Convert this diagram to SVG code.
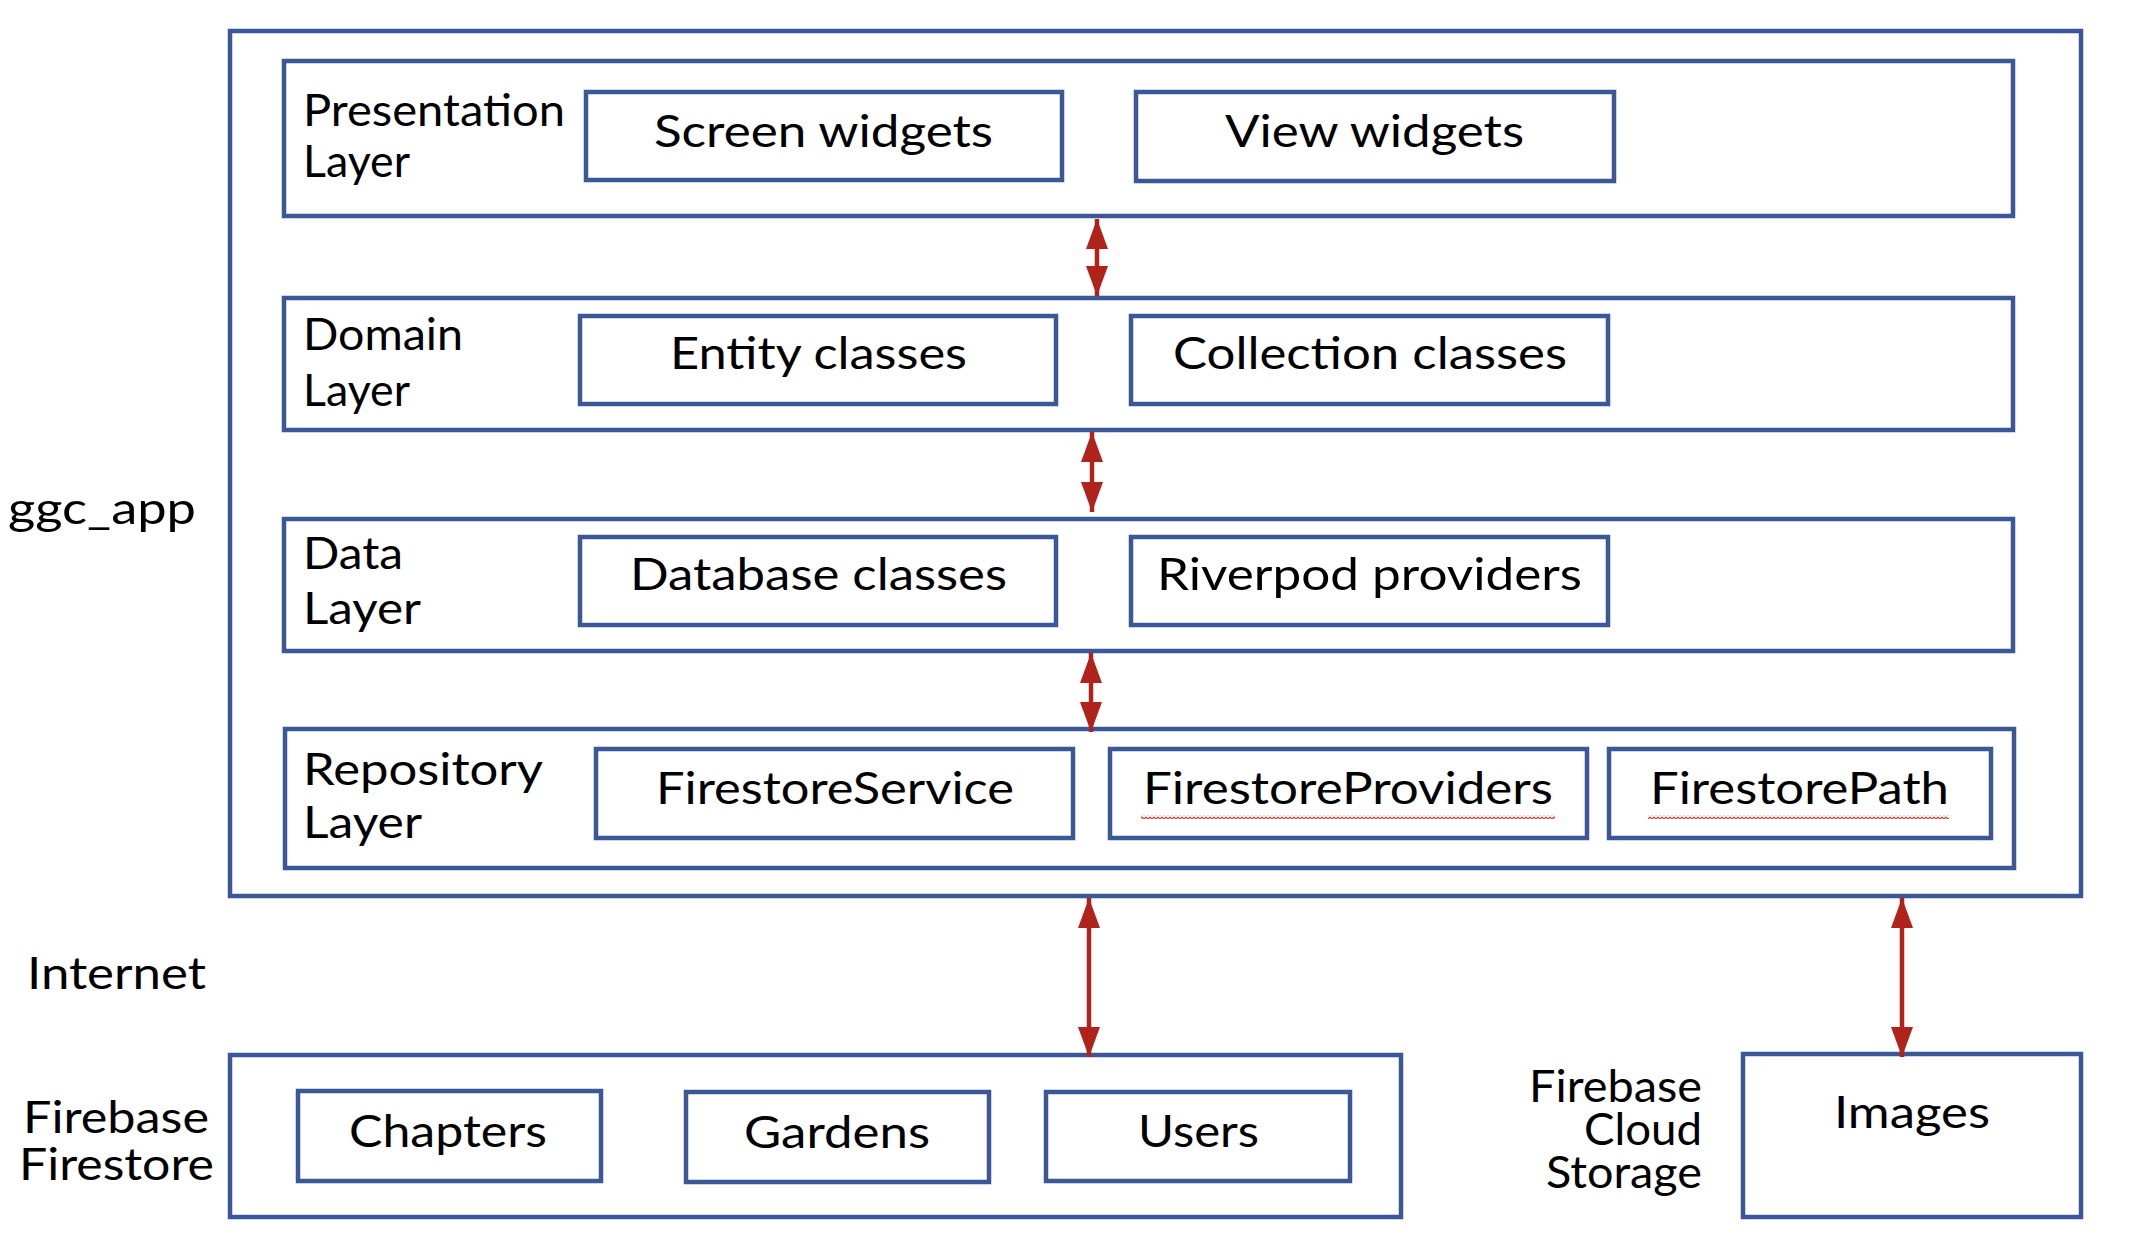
<svg xmlns="http://www.w3.org/2000/svg" width="2148" height="1244" viewBox="0 0 2148 1244">
<style>
.box{fill:none;stroke:#3B5796;stroke-width:4.5}
.t{font-family:Lato,"Open Sans","Liberation Sans",sans-serif;font-size:45px;fill:#000}
.c{text-anchor:middle}
.r{text-anchor:end}
.arr{stroke:#B0231A;stroke-width:4.5;fill:none;marker-start:url(#ah);marker-end:url(#ah)}
</style>
<defs>
<marker id="ah" viewBox="0 0 30 22" refX="30" refY="11" markerWidth="30" markerHeight="22" markerUnits="userSpaceOnUse" orient="auto-start-reverse">
<path d="M0,0 L30,11 L0,22 z" fill="#B0231A"/>
</marker>
<pattern id="squig" width="4" height="4" patternUnits="userSpaceOnUse">
<path d="M0,3 L2,1 L4,3" fill="none" stroke="#D93A2E" stroke-width="1.2"/>
</pattern>
</defs>
<rect width="2148" height="1244" fill="#fff"/>

<g id="ggc_app">
<rect class="box" x="230" y="31" width="1851" height="865"/>
<text class="t" x="8" y="524" textLength="188" lengthAdjust="spacingAndGlyphs">ggc_app</text>
</g>

<g id="presentation">
<rect class="box" x="284" y="61" width="1729" height="155"/>
<text class="t" x="303" y="126" textLength="262" lengthAdjust="spacingAndGlyphs">Presentation</text>
<text class="t" x="303" y="177" textLength="107" lengthAdjust="spacingAndGlyphs">Layer</text>
</g>
<g id="screen-widgets">
<rect class="box" x="586" y="92" width="476" height="88"/>
<text class="t" x="654" y="147" textLength="339" lengthAdjust="spacingAndGlyphs">Screen widgets</text>
</g>
<g id="view-widgets">
<rect class="box" x="1136" y="92" width="478" height="89"/>
<text class="t" x="1225" y="147" textLength="299" lengthAdjust="spacingAndGlyphs">View widgets</text>
</g>

<g id="domain">
<rect class="box" x="284" y="298" width="1729" height="132"/>
<text class="t" x="303" y="350" textLength="160" lengthAdjust="spacingAndGlyphs">Domain</text>
<text class="t" x="303" y="406" textLength="107" lengthAdjust="spacingAndGlyphs">Layer</text>
</g>
<g id="entity-classes">
<rect class="box" x="580" y="316" width="476" height="88"/>
<text class="t" x="670" y="369" textLength="297" lengthAdjust="spacingAndGlyphs">Entity classes</text>
</g>
<g id="collection-classes">
<rect class="box" x="1131" y="316" width="477" height="88"/>
<text class="t" x="1173" y="369" textLength="394" lengthAdjust="spacingAndGlyphs">Collection classes</text>
</g>

<g id="data">
<rect class="box" x="284" y="519" width="1729" height="132"/>
<text class="t" x="303" y="569" textLength="100" lengthAdjust="spacingAndGlyphs">Data</text>
<text class="t" x="303" y="624" textLength="118" lengthAdjust="spacingAndGlyphs">Layer</text>
</g>
<g id="database-classes">
<rect class="box" x="580" y="537" width="476" height="88"/>
<text class="t" x="630" y="590" textLength="377" lengthAdjust="spacingAndGlyphs">Database classes</text>
</g>
<g id="riverpod-providers">
<rect class="box" x="1131" y="537" width="477" height="88"/>
<text class="t" x="1157" y="590" textLength="425" lengthAdjust="spacingAndGlyphs">Riverpod providers</text>
</g>

<g id="repository">
<rect class="box" x="285" y="729" width="1729" height="139"/>
<text class="t" x="303" y="785" textLength="240" lengthAdjust="spacingAndGlyphs">Repository</text>
<text class="t" x="303" y="838" textLength="119" lengthAdjust="spacingAndGlyphs">Layer</text>
</g>
<g id="firestore-service">
<rect class="box" x="596" y="749" width="477" height="89"/>
<text class="t" x="656" y="804" textLength="358" lengthAdjust="spacingAndGlyphs">FirestoreService</text>
</g>
<g id="firestore-providers">
<rect class="box" x="1110" y="749" width="477" height="89"/>
<text class="t" x="1143" y="804" textLength="410" lengthAdjust="spacingAndGlyphs">FirestoreProviders</text>
<rect x="1141" y="815" width="414" height="4" fill="url(#squig)"/>
</g>
<g id="firestore-path">
<rect class="box" x="1609" y="749" width="382" height="89"/>
<text class="t" x="1650" y="804" textLength="299" lengthAdjust="spacingAndGlyphs">FirestorePath</text>
<rect x="1648" y="815" width="301" height="4" fill="url(#squig)"/>
</g>

<g id="internet">
<text class="t" x="27" y="989" textLength="179" lengthAdjust="spacingAndGlyphs">Internet</text>
</g>

<g id="firebase-firestore">
<rect class="box" x="230" y="1055" width="1171" height="162"/>
<text class="t" x="23" y="1133" textLength="186" lengthAdjust="spacingAndGlyphs">Firebase</text>
<text class="t" x="19" y="1180" textLength="195" lengthAdjust="spacingAndGlyphs">Firestore</text>
</g>
<g id="chapters">
<rect class="box" x="298" y="1091" width="303" height="90"/>
<text class="t" x="349" y="1147" textLength="198" lengthAdjust="spacingAndGlyphs">Chapters</text>
</g>
<g id="gardens">
<rect class="box" x="686" y="1092" width="303" height="90"/>
<text class="t" x="744" y="1148" textLength="186" lengthAdjust="spacingAndGlyphs">Gardens</text>
</g>
<g id="users">
<rect class="box" x="1046" y="1092" width="304" height="89"/>
<text class="t" x="1138" y="1147" textLength="121" lengthAdjust="spacingAndGlyphs">Users</text>
</g>

<g id="firebase-cloud-storage">
<text class="t r" x="1702" y="1102" textLength="173" lengthAdjust="spacingAndGlyphs">Firebase</text>
<text class="t r" x="1702" y="1145" textLength="118" lengthAdjust="spacingAndGlyphs">Cloud</text>
<text class="t r" x="1702" y="1188" textLength="156" lengthAdjust="spacingAndGlyphs">Storage</text>
</g>
<g id="images">
<rect class="box" x="1743" y="1054" width="338" height="163"/>
<text class="t" x="1834" y="1128" textLength="156" lengthAdjust="spacingAndGlyphs">Images</text>
</g>

<g id="connectors">
<line class="arr" x1="1097" y1="219" x2="1097" y2="296"/>
<line class="arr" x1="1092" y1="432" x2="1092" y2="512"/>
<line class="arr" x1="1091" y1="653" x2="1091" y2="732"/>
<line class="arr" x1="1089" y1="898" x2="1089" y2="1057"/>
<line class="arr" x1="1902" y1="898" x2="1902" y2="1057"/>
</g>
</svg>
